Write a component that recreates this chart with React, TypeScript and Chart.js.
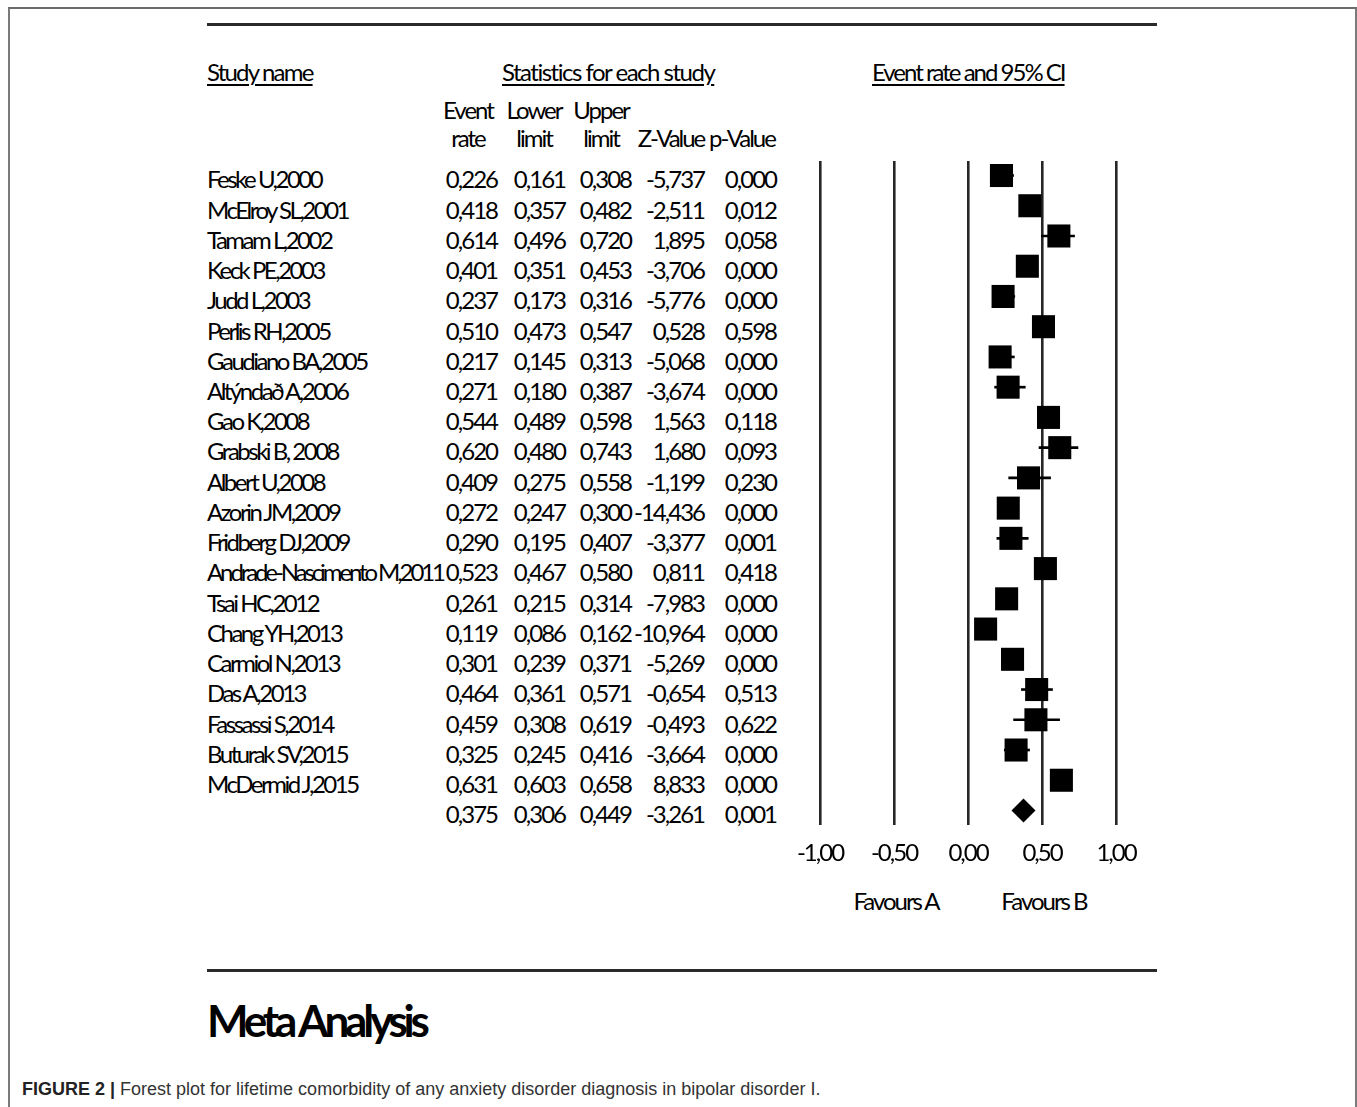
import React, { useEffect, useRef } from 'react';
import { Chart, registerables } from 'chart.js';

Chart.register(...registerables);

const studyNames = [
  'Feske U,2000',
  'McElroy SL,2001',
  'Tamam L,2002',
  'Keck PE,2003',
  'Judd L,2003',
  'Perlis RH,2005',
  'Gaudiano BA,2005',
  'Altýndað A,2006',
  'Gao K,2008',
  'Grabski B, 2008',
  'Albert U,2008',
  'Azorin JM,2009',
  'Fridberg DJ,2009',
  'Andrade-Nascimento M,2011',
  'Tsai HC,2012',
  'Chang YH,2013',
  'Carmiol N,2013',
  'Das A,2013',
  'Fassassi S,2014',
  'Buturak SV,2015',
  'McDermid J,2015',
];

const eventRate = [0.226, 0.418, 0.614, 0.401, 0.237, 0.51, 0.217, 0.271, 0.544, 0.62, 0.409, 0.272, 0.29, 0.523, 0.261, 0.119, 0.301, 0.464, 0.459, 0.325, 0.631];
const lowerLimit = [0.161, 0.357, 0.496, 0.351, 0.173, 0.473, 0.145, 0.18, 0.489, 0.48, 0.275, 0.247, 0.195, 0.467, 0.215, 0.086, 0.239, 0.361, 0.308, 0.245, 0.603];
const upperLimit = [0.308, 0.482, 0.72, 0.453, 0.316, 0.547, 0.313, 0.387, 0.598, 0.743, 0.558, 0.3, 0.407, 0.58, 0.314, 0.162, 0.371, 0.571, 0.619, 0.416, 0.658];
const zValue = [-5.737, -2.511, 1.895, -3.706, -5.776, 0.528, -5.068, -3.674, 1.563, 1.68, -1.199, -14.436, -3.377, 0.811, -7.983, -10.964, -5.269, -0.654, -0.493, -3.664, 8.833];
const pValue = [0.0, 0.012, 0.058, 0.0, 0.0, 0.598, 0.0, 0.0, 0.118, 0.093, 0.23, 0.0, 0.001, 0.418, 0.0, 0.0, 0.0, 0.513, 0.622, 0.0, 0.0];

const summaryStats = [0.375, 0.306, 0.449, -3.261, 0.001];

const xTicks = [-1, -0.5, 0, 0.5, 1];

const fmt = (v: number, d: number) => v.toFixed(d).replace('.', ',');

const FONT = 'Lato, "Open Sans", sans-serif';
const ROW0 = 180;
const STEP = 30.24;
const COL_RIGHT = [497, 565, 631, 704, 776];
const HEAD_CENTER = [468, 534, 601, 671, 742];

const textBase: React.CSSProperties = {
  position: 'absolute',
  fontFamily: FONT,
  fontSize: 24,
  lineHeight: '24px',
  letterSpacing: '-2px',
  color: '#000',
  whiteSpace: 'nowrap',
};

function Cell({
  x,
  y,
  text,
  align,
  spacing,
  w = 300,
  lh = 24,
}: {
  x: number;
  y: number;
  text: string;
  align: 'left' | 'right' | 'center';
  spacing?: string;
  w?: number;
  lh?: number;
}) {
  let left = x;
  if (align === 'right') left = x - w;
  if (align === 'center') left = x - w / 2;
  return (
    <div
      style={{
        ...textBase,
        left,
        top: y - 12.7 + (24 - lh) / 2,
        width: w,
        lineHeight: lh + 'px',
        height: lh,
        textAlign: align,
        letterSpacing: spacing || textBase.letterSpacing,
      }}
    >
      {text}
    </div>
  );
}

function ForestChart() {
  const ref = useRef<HTMLCanvasElement | null>(null);
  useEffect(() => {
    if (!ref.current) return;
    const spacingPlugin = {
      id: 'spacing',
      beforeDraw(chart: any) {
        try {
          chart.ctx.letterSpacing = '-2px';
        } catch (e) {}
      },
    };
    const n = studyNames.length;
    const chart = new Chart(ref.current, {
      type: 'bar',
      data: {
        datasets: [
          {
            type: 'scatter',
            label: 'Event rate',
            data: eventRate.map((v, i) => ({ x: v, y: i })),
            pointStyle: 'rect',
            pointRadius: 16.3,
            pointBorderWidth: 0,
            backgroundColor: '#000',
            borderColor: '#000',
            order: 0,
          } as any,
          {
            type: 'scatter',
            label: 'Summary',
            data: [{ x: summaryStats[0], y: n }],
            pointStyle: 'rectRot',
            pointRadius: 12,
            pointBorderWidth: 0,
            backgroundColor: '#000',
            borderColor: '#000',
            order: 0,
          } as any,
          {
            type: 'bar',
            label: '95% CI',
            indexAxis: 'y',
            data: lowerLimit.map((lo, i) => ({ y: i, x: [lo, upperLimit[i]] })),
            barThickness: 2,
            backgroundColor: '#000',
            borderWidth: 0,
            order: 1,
          } as any,
        ],
      },
      options: {
        animation: false,
        responsive: false,
        maintainAspectRatio: false,
        layout: { padding: { left: 50, right: 50, top: 20, bottom: 0 } },
        plugins: { legend: { display: false }, tooltip: { enabled: false } },
        scales: {
          x: {
            type: 'linear',
            min: -1,
            max: 1,
            offset: false,
            afterBuildTicks: (scale: any) => {
              scale.ticks = xTicks.map((v) => ({ value: v }));
            },
            afterFit: (scale: any) => {
              scale.height = 56;
            },
            grid: { color: '#262626', lineWidth: 2.6, drawTicks: false, offset: false },
            border: { display: false },
            ticks: {
              color: '#000',
              padding: 14,
              autoSkip: false,
              maxRotation: 0,
              font: { family: 'Lato', size: 24 },
              callback: (v: any) => fmt(Number(v), 2),
            },
          },
          y: {
            type: 'linear',
            display: false,
            reverse: true,
            offset: false,
            grid: { offset: false },
            min: -0.48,
            max: n + 0.48,
          },
        },
      } as any,
      plugins: [spacingPlugin],
    });
    return () => chart.destroy();
  }, []);
  return (
    <canvas
      ref={ref}
      width={396}
      height={740}
      style={{ position: 'absolute', left: 770, top: 141, width: 396, height: 740 }}
    />
  );
}

export default function App() {
  const rows: React.ReactNode[] = [];
  studyNames.forEach((name, i) => {
    const y = ROW0 + i * STEP;
    rows.push(
      <Cell key={'n' + i} x={207} y={y} text={name} align="left" spacing={name.length > 20 ? '-3.1px' : '-2.5px'} />
    );
    const vals = [eventRate[i], lowerLimit[i], upperLimit[i], zValue[i], pValue[i]];
    vals.forEach((v, j) => {
      rows.push(<Cell key={'v' + i + '-' + j} x={COL_RIGHT[j]} y={y} text={fmt(v, 3)} align="right" w={90} />);
    });
  });
  const ySum = ROW0 + studyNames.length * STEP;
  summaryStats.forEach((v, j) => {
    rows.push(<Cell key={'s' + j} x={COL_RIGHT[j]} y={ySum} text={fmt(v, 3)} align="right" w={90} />);
  });

  const underline: React.CSSProperties = {
    textDecoration: 'underline',
    textDecorationThickness: '2px',
    textUnderlineOffset: '3px',
    letterSpacing: '-1.5px',
  };

  return (
    <div style={{ position: 'absolute', left: 0, top: 0, width: 1357, height: 1107, background: '#fff', overflow: 'hidden' }}>
      <div
        style={{
          position: 'absolute',
          left: 8,
          top: 7,
          width: 1345,
          height: 1110,
          borderLeft: '2px solid #7a7a7a',
          borderTop: '2px solid #6a6a6a',
          borderRight: '2px solid #7a7a7a',
        }}
      />
      <div style={{ position: 'absolute', left: 207, top: 23, width: 950, height: 3, background: '#2a2a2a' }} />
      <div style={{ position: 'absolute', left: 207, top: 969, width: 950, height: 3, background: '#2a2a2a' }} />

      <div style={{ ...textBase, ...underline, left: 207, top: 73 - 12.7, letterSpacing: '-1.8px' }}>Study name</div>
      <div style={{ ...textBase, ...underline, left: 502, top: 73 - 12.7 }}>Statistics for each study</div>
      <div style={{ ...textBase, ...underline, left: 872, top: 73 - 12.7, letterSpacing: '-2px' }}>Event rate and 95% CI</div>

      <Cell x={HEAD_CENTER[0]} y={111} text="Event" align="center" w={66} lh={18} />
      <Cell x={HEAD_CENTER[1]} y={111} text="Lower" align="center" w={66} lh={18} />
      <Cell x={HEAD_CENTER[2]} y={111} text="Upper" align="center" w={66} lh={18} />
      <Cell x={HEAD_CENTER[0]} y={139} text="rate" align="center" w={60} lh={18} />
      <Cell x={HEAD_CENTER[1]} y={139} text="limit" align="center" w={60} lh={18} />
      <Cell x={HEAD_CENTER[2]} y={139} text="limit" align="center" w={60} lh={18} />
      <Cell x={HEAD_CENTER[3]} y={139} text="Z-Value" align="center" w={70} lh={18} />
      <Cell x={HEAD_CENTER[4]} y={139} text="p-Value" align="center" w={70} lh={18} />

      {rows}

      <ForestChart />

      <Cell x={896} y={902} text="Favours A" align="center" w={120} />
      <Cell x={1044} y={902} text="Favours B" align="center" w={120} />

      <div
        style={{
          position: 'absolute',
          left: 207,
          top: 995,
          fontFamily: FONT,
          fontWeight: 700,
          fontSize: 44,
          lineHeight: '50px',
          letterSpacing: '-4.2px',
          color: '#000',
          whiteSpace: 'nowrap',
        }}
      >
        Meta Analysis
      </div>

      <div
        style={{
          position: 'absolute',
          left: 22,
          top: 1078,
          fontFamily: '"Liberation Sans", Arial, sans-serif',
          fontSize: 18,
          lineHeight: '22px',
          color: '#333',
          whiteSpace: 'nowrap',
        }}
      >
        <span style={{ fontWeight: 700, color: '#222' }}>FIGURE 2 |</span> Forest plot for lifetime comorbidity of any anxiety disorder diagnosis in bipolar disorder I.
      </div>
    </div>
  );
}
